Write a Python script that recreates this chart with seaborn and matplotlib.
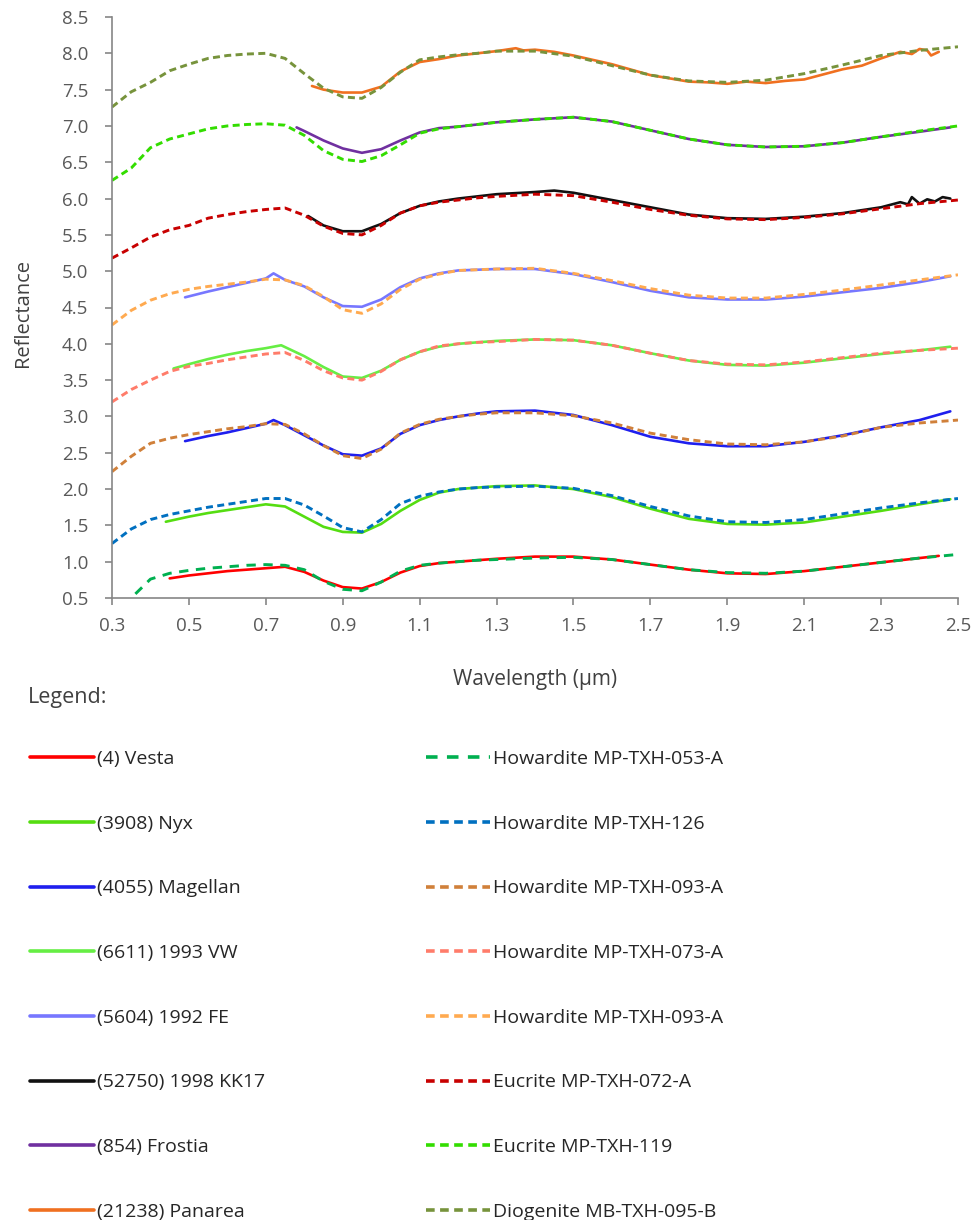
import matplotlib
matplotlib.use("Agg")
import matplotlib.pyplot as plt
import seaborn as sns
import pandas as pd

# ---------------- data ----------------
# common wavelength grid of the laboratory (meteorite) spectra, in micrometres
WL = [0.30, 0.35, 0.40, 0.45, 0.50, 0.55, 0.60, 0.65, 0.70, 0.75, 0.80, 0.85,
      0.90, 0.95, 1.00, 1.05, 1.10, 1.15, 1.20, 1.25, 1.30, 1.40, 1.50, 1.60,
      1.70, 1.80, 1.90, 2.00, 2.10, 2.20, 2.30, 2.40, 2.50]

# meteorite spectra (offset reflectance)
how_053a = [0.22, 0.50, 0.76, 0.84, 0.88, 0.91, 0.93, 0.95, 0.96, 0.95, 0.89, 0.73,
            0.62, 0.60, 0.72, 0.87, 0.95, 0.98, 1.00, 1.02, 1.03, 1.05, 1.06, 1.03,
            0.96, 0.89, 0.85, 0.84, 0.87, 0.93, 0.99, 1.05, 1.10]
how_126 = [1.25, 1.45, 1.58, 1.65, 1.70, 1.75, 1.79, 1.83, 1.87, 1.87, 1.78, 1.63,
           1.47, 1.41, 1.58, 1.80, 1.90, 1.96, 2.00, 2.02, 2.03, 2.04, 2.01, 1.91,
           1.76, 1.63, 1.55, 1.54, 1.58, 1.66, 1.74, 1.81, 1.87]
how_093a_b = [2.24, 2.45, 2.63, 2.70, 2.75, 2.79, 2.83, 2.86, 2.90, 2.89, 2.76, 2.60,
              2.46, 2.42, 2.55, 2.77, 2.89, 2.96, 3.00, 3.03, 3.05, 3.05, 3.01, 2.91,
              2.77, 2.68, 2.62, 2.61, 2.65, 2.73, 2.85, 2.91, 2.95]
how_073a = [3.20, 3.37, 3.50, 3.62, 3.69, 3.73, 3.78, 3.82, 3.86, 3.88, 3.77, 3.63,
            3.53, 3.50, 3.62, 3.78, 3.89, 3.97, 4.00, 4.02, 4.03, 4.06, 4.05, 3.98,
            3.87, 3.77, 3.72, 3.71, 3.75, 3.81, 3.87, 3.91, 3.94]
how_093a_o = [4.26, 4.46, 4.60, 4.69, 4.75, 4.79, 4.82, 4.85, 4.89, 4.88, 4.80, 4.65,
              4.47, 4.42, 4.55, 4.75, 4.89, 4.96, 5.01, 5.02, 5.03, 5.04, 4.97, 4.87,
              4.76, 4.67, 4.63, 4.63, 4.68, 4.74, 4.81, 4.88, 4.95]
euc_072a = [5.18, 5.32, 5.47, 5.57, 5.63, 5.73, 5.78, 5.82, 5.85, 5.87, 5.77, 5.62,
            5.52, 5.50, 5.63, 5.80, 5.90, 5.95, 5.98, 6.01, 6.03, 6.06, 6.04, 5.95,
            5.85, 5.77, 5.72, 5.71, 5.74, 5.79, 5.86, 5.93, 5.98]
euc_119 = [6.25, 6.42, 6.70, 6.82, 6.89, 6.96, 7.00, 7.02, 7.03, 7.01, 6.87, 6.66,
           6.54, 6.51, 6.59, 6.74, 6.90, 6.96, 6.99, 7.02, 7.05, 7.09, 7.12, 7.06,
           6.94, 6.82, 6.74, 6.71, 6.72, 6.77, 6.85, 6.93, 7.00]
dio_095b = [7.26, 7.47, 7.60, 7.76, 7.85, 7.93, 7.97, 7.99, 8.00, 7.93, 7.72, 7.52,
            7.40, 7.38, 7.53, 7.74, 7.91, 7.95, 7.98, 8.00, 8.03, 8.03, 7.96, 7.83,
            7.70, 7.62, 7.60, 7.63, 7.72, 7.84, 7.97, 8.04, 8.09]

# asteroid spectra (offset reflectance)
vesta_wl = [0.45, 0.50, 0.55, 0.60, 0.65, 0.70, 0.75, 0.80, 0.85, 0.90, 0.95, 1.00,
            1.05, 1.10, 1.15, 1.20, 1.25, 1.30, 1.40, 1.50, 1.60, 1.70, 1.80, 1.90,
            2.00, 2.10, 2.20, 2.30, 2.40, 2.45]
vesta = [0.77, 0.81, 0.84, 0.87, 0.89, 0.91, 0.93, 0.86, 0.74, 0.65, 0.63, 0.72,
         0.85, 0.94, 0.98, 1.00, 1.02, 1.04, 1.07, 1.07, 1.03, 0.96, 0.89, 0.84,
         0.83, 0.87, 0.93, 0.99, 1.05, 1.08]
nyx_wl = [0.44, 0.50, 0.55, 0.60, 0.65, 0.70, 0.75, 0.80, 0.85, 0.90, 0.95, 1.00,
          1.05, 1.10, 1.15, 1.20, 1.25, 1.30, 1.40, 1.50, 1.60, 1.70, 1.80, 1.90,
          2.00, 2.10, 2.20, 2.30, 2.40, 2.48]
nyx = [1.55, 1.62, 1.67, 1.71, 1.75, 1.79, 1.76, 1.62, 1.48, 1.41, 1.40, 1.52,
       1.70, 1.85, 1.95, 2.00, 2.02, 2.04, 2.05, 2.00, 1.89, 1.73, 1.59, 1.52,
       1.51, 1.54, 1.62, 1.70, 1.79, 1.86]
magellan_wl = [0.49, 0.55, 0.60, 0.65, 0.70, 0.72, 0.75, 0.80, 0.85, 0.90, 0.95, 1.00,
               1.05, 1.10, 1.15, 1.20, 1.25, 1.30, 1.40, 1.50, 1.60, 1.70, 1.80, 1.90,
               2.00, 2.10, 2.20, 2.30, 2.40, 2.48]
magellan = [2.66, 2.73, 2.78, 2.84, 2.90, 2.95, 2.88, 2.74, 2.60, 2.48, 2.46, 2.56,
            2.76, 2.88, 2.95, 3.00, 3.04, 3.07, 3.08, 3.02, 2.88, 2.72, 2.63, 2.59,
            2.59, 2.65, 2.74, 2.85, 2.95, 3.07]
vw_wl = [0.46, 0.50, 0.55, 0.60, 0.65, 0.70, 0.74, 0.80, 0.85, 0.90, 0.95, 1.00,
         1.05, 1.10, 1.15, 1.20, 1.25, 1.30, 1.40, 1.50, 1.60, 1.70, 1.80, 1.90,
         2.00, 2.10, 2.20, 2.30, 2.40, 2.48]
vw = [3.66, 3.72, 3.79, 3.85, 3.90, 3.94, 3.98, 3.83, 3.68, 3.55, 3.53, 3.63,
      3.78, 3.89, 3.96, 4.00, 4.02, 4.04, 4.06, 4.05, 3.98, 3.87, 3.77, 3.71,
      3.70, 3.74, 3.80, 3.86, 3.91, 3.96]
fe_wl = [0.49, 0.55, 0.60, 0.65, 0.70, 0.72, 0.75, 0.80, 0.85, 0.90, 0.95, 1.00,
         1.05, 1.10, 1.15, 1.20, 1.25, 1.30, 1.40, 1.50, 1.60, 1.70, 1.80, 1.90,
         2.00, 2.10, 2.20, 2.30, 2.40, 2.48]
fe = [4.64, 4.72, 4.78, 4.84, 4.90, 4.97, 4.88, 4.79, 4.64, 4.52, 4.51, 4.61,
      4.78, 4.90, 4.97, 5.01, 5.02, 5.03, 5.03, 4.96, 4.85, 4.73, 4.64, 4.61,
      4.61, 4.65, 4.71, 4.77, 4.85, 4.93]
kk17_wl = [0.81, 0.85, 0.90, 0.95, 1.00, 1.05, 1.10, 1.15, 1.20, 1.25, 1.30, 1.40,
           1.45, 1.50, 1.60, 1.70, 1.80, 1.90, 2.00, 2.10, 2.20, 2.30, 2.35, 2.37,
           2.38, 2.40, 2.42, 2.44, 2.46, 2.48]
kk17 = [5.76, 5.63, 5.55, 5.55, 5.65, 5.80, 5.90, 5.96, 6.00, 6.03, 6.06, 6.09,
        6.11, 6.08, 5.98, 5.88, 5.78, 5.73, 5.72, 5.75, 5.80, 5.88, 5.95, 5.92,
        6.02, 5.93, 5.99, 5.96, 6.02, 6.00]
frostia_wl = [0.78, 0.80, 0.85, 0.90, 0.95, 1.00, 1.05, 1.10, 1.15, 1.20, 1.25, 1.30,
              1.40, 1.50, 1.60, 1.70, 1.80, 1.90, 2.00, 2.10, 2.20, 2.30, 2.40, 2.48]
frostia = [6.98, 6.93, 6.80, 6.69, 6.63, 6.68, 6.80, 6.91, 6.97, 6.99, 7.02, 7.05,
           7.09, 7.12, 7.06, 6.94, 6.82, 6.74, 6.71, 6.72, 6.77, 6.85, 6.92, 6.98]
panarea_wl = [0.82, 0.85, 0.90, 0.95, 1.00, 1.05, 1.10, 1.15, 1.20, 1.25, 1.30, 1.35,
              1.37, 1.40, 1.45, 1.50, 1.60, 1.70, 1.80, 1.85, 1.90, 1.95, 2.00, 2.05,
              2.10, 2.20, 2.25, 2.30, 2.35, 2.38, 2.40, 2.42, 2.43, 2.45]
panarea = [7.55, 7.50, 7.46, 7.46, 7.54, 7.75, 7.88, 7.92, 7.97, 8.00, 8.03, 8.07,
           8.04, 8.05, 8.02, 7.97, 7.85, 7.70, 7.61, 7.60, 7.58, 7.61, 7.59, 7.62,
           7.64, 7.78, 7.83, 7.93, 8.02, 7.99, 8.06, 8.04, 7.97, 8.02]

asteroid_labels = ["(4) Vesta", "(3908) Nyx", "(4055) Magellan", "(6611) 1993 VW",
                   "(5604) 1992 FE", "(52750) 1998 KK17", "(854) Frostia",
                   "(21238) Panarea"]
meteorite_labels = ["Howardite MP-TXH-053-A", "Howardite MP-TXH-126",
                    "Howardite MP-TXH-093-A", "Howardite MP-TXH-073-A",
                    "Howardite MP-TXH-093-A", "Eucrite MP-TXH-072-A",
                    "Eucrite MP-TXH-119", "Diogenite MB-TXH-095-B"]
x_ticks = [0.3, 0.5, 0.7, 0.9, 1.1, 1.3, 1.5, 1.7, 1.9, 2.1, 2.3, 2.5]
y_ticks = [0.5, 1.0, 1.5, 2.0, 2.5, 3.0, 3.5, 4.0, 4.5, 5.0, 5.5, 6.0, 6.5, 7.0,
           7.5, 8.0, 8.5]

# ---------------- styling ----------------
asteroid_colors = ["#ff0000", "#55dd11", "#1f1fee", "#66ee44", "#7777ff",
                   "#111111", "#7030a0", "#f07020"]
meteorite_colors = ["#00b050", "#0070c0", "#d0803a", "#ff7c6a", "#ffaa50",
                    "#c80000", "#33dd00", "#77933c"]

asteroids = [(vesta_wl, vesta), (nyx_wl, nyx), (magellan_wl, magellan), (vw_wl, vw),
             (fe_wl, fe), (kk17_wl, kk17), (frostia_wl, frostia),
             (panarea_wl, panarea)]
meteorites = [how_053a, how_126, how_093a_b, how_073a, how_093a_o, euc_072a,
              euc_119, dio_095b]

sns.set_style("ticks")
plt.rcParams["font.family"] = ["Open Sans", "DejaVu Sans"]

fig = plt.figure(figsize=(9.74, 12.2), dpi=100)
W, H = 974, 1220
ax = fig.add_axes([112 / W, 1 - 598 / H, (958 - 112) / W, (598 - 17) / H])

ast_handles = []
for (xs, ys), c, lab in zip(asteroids, asteroid_colors, asteroid_labels):
    df = pd.DataFrame({"wl": xs, "r": ys})
    sns.lineplot(data=df, x="wl", y="r", color=c, lw=1.9, ax=ax, legend=False,
                 errorbar=None)
    ln = ax.lines[-1]
    ln.set_label(lab)
    ast_handles.append(ln)

met_handles = []
for i, (ys, c, lab) in enumerate(zip(meteorites, meteorite_colors, meteorite_labels)):
    df = pd.DataFrame({"wl": WL, "r": ys})
    ls = (0, (3.2, 2.6)) if i == 0 else (0, (2.4, 1.5))
    sns.lineplot(data=df, x="wl", y="r", color=c, lw=2.1, linestyle=ls, ax=ax,
                 legend=False, errorbar=None)
    ln = ax.lines[-1]
    ln.set_label(lab)
    met_handles.append(ln)

ax.set_xlim(0.3, 2.5)
ax.set_ylim(0.5, 8.5)
ax.set_xticks(x_ticks)
ax.set_xticklabels([f"{v:.1f}" for v in x_ticks])
ax.set_yticks(y_ticks)
ax.set_yticklabels([f"{v:.1f}" for v in y_ticks])
for s in ["top", "right"]:
    ax.spines[s].set_visible(False)
for s in ["left", "bottom"]:
    ax.spines[s].set_color("#868686")
    ax.spines[s].set_linewidth(1.2)
ax.tick_params(axis="both", direction="out", length=5, width=1.2, color="#868686",
               labelsize=13.5, labelcolor="#595959")
ax.tick_params(axis="y", pad=12)
ax.tick_params(axis="x", pad=9)

ax.set_xlabel("Wavelength (µm)", fontsize=15, color="#404040")
ax.set_ylabel("Reflectance", fontsize=14.5, color="#404040")
ax.xaxis.set_label_coords(0.5, -(669 - 598) / (598 - 17))
ax.yaxis.set_label_coords(-(112 - 33) / (958 - 112), 0.49)

fig.text(28 / W, 1 - 697 / H, "Legend:", fontsize=15.5, color="#404040",
         va="center", ha="left")

fs = 14
common = dict(frameon=False, fontsize=fs, borderpad=0, borderaxespad=0,
              handlelength=3.3, handletextpad=0.15, labelspacing=2.4,
              loc="upper left", bbox_transform=fig.transFigure)
leg1 = fig.legend(handles=ast_handles, labels=asteroid_labels,
                  bbox_to_anchor=(30 / W, 1 - 750 / H), **common)
leg2 = fig.legend(handles=met_handles, labels=meteorite_labels,
                  bbox_to_anchor=(426 / W, 1 - 750 / H), **common)
for leg in (leg1, leg2):
    for t in leg.get_texts():
        t.set_color("#262626")
    for h in leg.legend_handles:
        h.set_linewidth(2.6)

fig.savefig("out.png", dpi=100)
